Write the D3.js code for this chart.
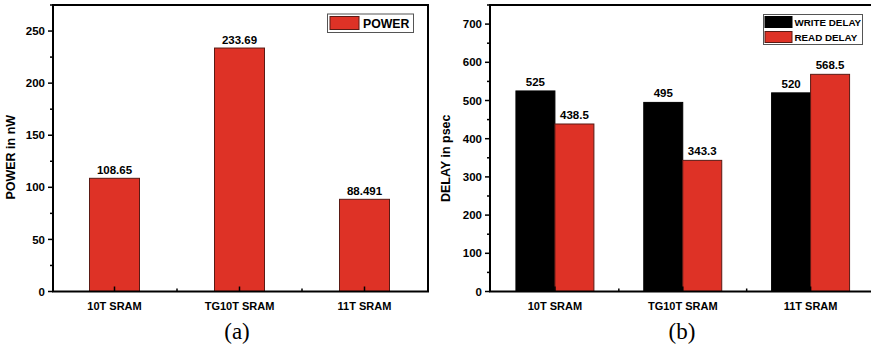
<!DOCTYPE html>
<html>
<head>
<meta charset="utf-8">
<script src="https://cdn.jsdelivr.net/npm/d3@7"></script>
<style>
  html, body { margin: 0; padding: 0; background: #fff; }
  svg { display: block; }
  text { font-family: "Liberation Sans", Arial, sans-serif; font-weight: bold; fill: #000; }
  .cap { font-family: "Liberation Serif", "Times New Roman", serif; font-weight: normal; }
</style>
</head>
<body>
<svg id="chart" width="871" height="352"></svg>
<script>
// SRAM cell comparison
const categories = ["10T SRAM", "TG10T SRAM", "11T SRAM"];
const powerValues = [108.65, 233.69, 88.491];
const powerLabels = ["108.65", "233.69", "88.491"];
const writeDelay = [525, 495, 520];
const readDelay = [438.5, 343.3, 568.5];
const powerTicks = [0, 50, 100, 150, 200, 250];
const delayTicks = [0, 100, 200, 300, 400, 500, 600, 700];
const delaySeries = ["WRITE DELAY", "READ DELAY"];

const RED = "#de3226";
const RED_EDGE = "#5a1a14";
const svg = d3.select("#chart");

function frame(g, x0, x1, y0, y1) {
  g.append("rect").attr("x", x0).attr("y", y0)
    .attr("width", x1 - x0).attr("height", y1 - y0)
    .attr("fill", "none").attr("stroke", "#000").attr("stroke-width", 2);
}

function yAxis(g, y, x0, ticks, minorStep) {
  const [lo, hi] = y.domain();
  const minor = d3.range(lo, hi + 0.001, minorStep).filter(v => !ticks.includes(v));
  g.selectAll(null).data(minor).join("line")
    .attr("x1", x0 - 3).attr("x2", x0)
    .attr("y1", d => y(d)).attr("y2", d => y(d))
    .attr("stroke", "#000").attr("stroke-width", 1.5);
  g.selectAll(null).data(ticks).join("line")
    .attr("x1", x0 - 5).attr("x2", x0)
    .attr("y1", d => y(d)).attr("y2", d => y(d))
    .attr("stroke", "#000").attr("stroke-width", 1.5);
  g.selectAll(null).data(ticks).join("text")
    .attr("x", x0 - 8).attr("y", d => y(d)).attr("dy", "0.36em")
    .attr("text-anchor", "end").attr("font-size", 11.5)
    .text(d => d);
}

function xAxis(g, x, yBase) {
  const step = x.step();
  const centers = categories.map(c => x(c) + x.bandwidth() / 2);
  g.selectAll(null).data(centers).join("line")
    .attr("x1", d => d).attr("x2", d => d)
    .attr("y1", yBase - 5).attr("y2", yBase)
    .attr("stroke", "#000").attr("stroke-width", 1.5);
  g.selectAll(null).data(centers.slice(0, -1)).join("line")
    .attr("x1", d => d + step / 2).attr("x2", d => d + step / 2)
    .attr("y1", yBase - 3).attr("y2", yBase)
    .attr("stroke", "#000").attr("stroke-width", 1.5);
  g.selectAll(null).data(categories).join("text")
    .attr("x", d => x(d) + x.bandwidth() / 2).attr("y", yBase + 18)
    .attr("text-anchor", "middle").attr("font-size", 11)
    .text(d => d);
}

// ---- (a) power ----
{
  const L = 53, R = 428, T = 5, B = 291.5;
  const g = svg.append("g");
  const x = d3.scaleBand().domain(categories).range([L - 1, R - 1])
    .paddingInner(0.6).paddingOuter(0.3);
  const y = d3.scaleLinear().domain([0, 275]).range([B, T]);

  g.selectAll(null).data(categories).join("rect")
    .attr("x", d => x(d)).attr("width", x.bandwidth())
    .attr("y", (d, i) => y(powerValues[i]))
    .attr("height", (d, i) => B - y(powerValues[i]))
    .attr("fill", RED).attr("stroke", RED_EDGE).attr("stroke-width", 1);

  g.selectAll(null).data(categories).join("text")
    .attr("x", d => x(d) + x.bandwidth() / 2)
    .attr("y", (d, i) => y(powerValues[i]) - 4.5)
    .attr("text-anchor", "middle").attr("font-size", 11.5)
    .text((d, i) => powerLabels[i]);

  frame(g, L, R, T, B);
  yAxis(g, y, L, powerTicks, 25);
  xAxis(g, x, B);

  g.append("text").attr("transform", `translate(15,${(T + B) / 2 + 9}) rotate(-90)`)
    .attr("text-anchor", "middle").attr("font-size", 12.5).text("POWER in nW");

  // legend
  g.append("rect").attr("x", 327.5).attr("y", 14).attr("width", 86).attr("height", 18.5)
    .attr("fill", "#fff").attr("stroke", "#555").attr("stroke-width", 1);
  g.append("rect").attr("x", 330).attr("y", 16.5).attr("width", 29).attr("height", 13)
    .attr("fill", RED).attr("stroke", RED_EDGE).attr("stroke-width", 1);
  g.append("text").attr("x", 363).attr("y", 28).attr("font-size", 12.3).text("POWER");

  g.append("text").attr("class", "cap").attr("x", 237).attr("y", 339)
    .attr("text-anchor", "middle").attr("font-size", 23).text("(a)");
}

// ---- (b) delay ----
{
  const L = 490, R = 874.5, T = 5, B = 291.5;
  const g = svg.append("g");
  const x = d3.scaleBand().domain(categories).range([L + 1, R])
    .paddingInner(0.39).paddingOuter(0.195);
  const xs = d3.scaleBand().domain(delaySeries).range([0, x.bandwidth()]);
  const y = d3.scaleLinear().domain([0, 750]).range([B, T]);
  const colors = { "WRITE DELAY": "#000", "READ DELAY": RED };
  const edges = { "WRITE DELAY": "#000", "READ DELAY": RED_EDGE };
  const seriesData = { "WRITE DELAY": writeDelay, "READ DELAY": readDelay };

  const cells = [];
  categories.forEach((c, i) => delaySeries.forEach(s => cells.push({ c, s, v: seriesData[s][i] })));

  g.selectAll(null).data(cells).join("rect")
    .attr("x", d => x(d.c) + xs(d.s)).attr("width", xs.bandwidth())
    .attr("y", d => y(d.v)).attr("height", d => B - y(d.v))
    .attr("fill", d => colors[d.s]).attr("stroke", d => edges[d.s]).attr("stroke-width", 1);

  g.selectAll(null).data(cells).join("text")
    .attr("x", d => x(d.c) + xs(d.s) + xs.bandwidth() / 2)
    .attr("y", d => y(d.v) - 5)
    .attr("text-anchor", "middle").attr("font-size", 11.5)
    .text(d => d.v);

  frame(g, L, R, T, B);
  yAxis(g, y, L, delayTicks, 50);
  xAxis(g, x, B);

  g.append("text").attr("transform", `translate(450,${(T + B) / 2 + 10}) rotate(-90)`)
    .attr("text-anchor", "middle").attr("font-size", 12.5).text("DELAY in psec");

  // legend
  g.append("rect").attr("x", 763.5).attr("y", 14.5).attr("width", 99).attr("height", 30)
    .attr("fill", "#fff").attr("stroke", "#555").attr("stroke-width", 1);
  const lg = g.selectAll(null).data(delaySeries).join("g")
    .attr("transform", (d, i) => `translate(765,${16.5 + i * 15})`);
  lg.append("rect").attr("width", 27).attr("height", 11)
    .attr("fill", d => colors[d]).attr("stroke", d => edges[d]).attr("stroke-width", 1);
  lg.append("text").attr("x", 29.5).attr("y", 9.5).attr("font-size", 9.8).text(d => d);

  g.append("text").attr("class", "cap").attr("x", 682).attr("y", 339)
    .attr("text-anchor", "middle").attr("font-size", 23).text("(b)");
}
</script>
</body>
</html>
